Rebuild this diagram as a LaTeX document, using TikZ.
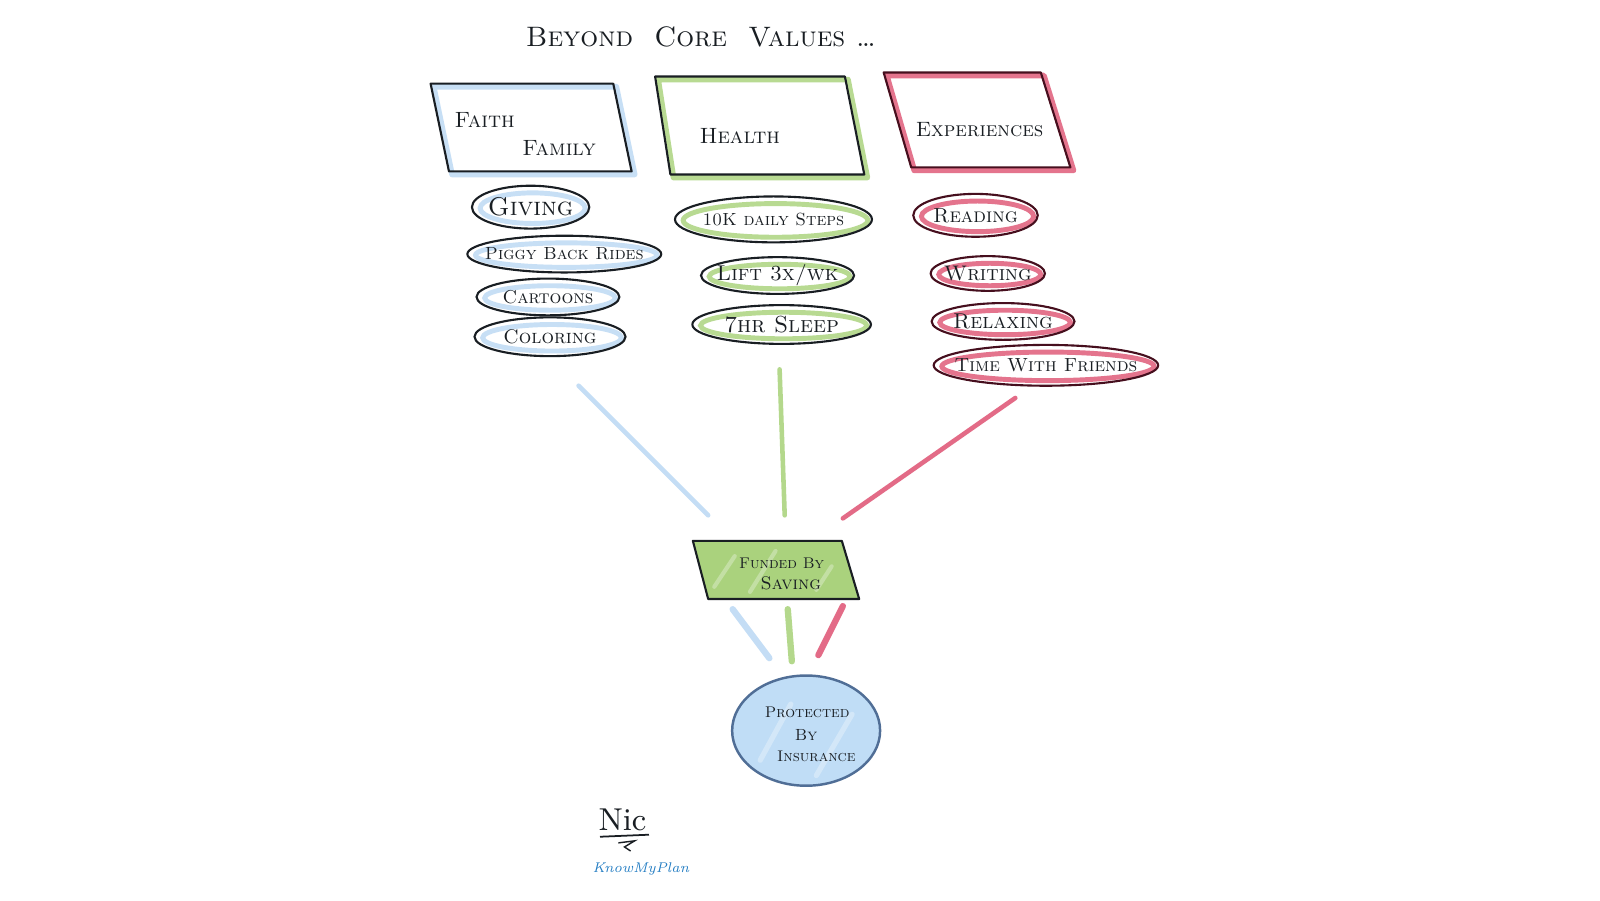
\documentclass[tikz,border=0pt]{standalone}
\usetikzlibrary{shapes.geometric}
\definecolor{cblue}{RGB}{190,218,244}
\definecolor{cgreen}{RGB}{172,212,128}
\definecolor{cred}{RGB}{224,92,122}
\definecolor{ink}{RGB}{25,30,35}
\definecolor{redink}{RGB}{70,15,30}
\definecolor{fundfill}{RGB}{170,210,125}
\definecolor{insfill}{RGB}{192,221,246}
\definecolor{insline}{RGB}{80,110,150}
\definecolor{kmp}{RGB}{35,125,195}
\newcommand\pxu{0.2903pt}
\newcommand\para[6]{%
  \draw[#1, line width=1.6pt, opacity=.85, line join=round, shift={(3,3)}] #3 -- #4 -- #5 -- #6 -- cycle;
  \draw[#2, line width=0.6pt, line join=round] #3 -- #4 -- #5 -- #6 -- cycle;
}
\newcommand\pill[9]{%
  \draw[#6, line width=1.4pt, opacity=.85] (#2+2,#3+1) ellipse [x radius={(#4/2-6)*\pxu}, y radius={(#5/2-6)*\pxu}];
  \node[pillnode, draw=#7, minimum width={#4*\pxu}, minimum height={#5*\pxu}] (#1) at (#2,#3) {};
  \node[pilltext, font=\fontsize{#8}{#8}\selectfont\scshape] (#1-t) at (#1.center) {#9};
}
\begin{document}
\begin{tikzpicture}[x=0.2903pt,y=-0.2903pt,
  pillnode/.style={ellipse, line width=0.6pt, inner sep=0pt},
  pilltext/.style={inner sep=0pt, text=ink},
  boxlbl/.style={inner sep=0pt, text=ink, font=\fontsize{6.3}{7.5}\selectfont\scshape},
  link/.style={line width=1.3pt, line cap=round, opacity=.9},
  droplink/.style={line width=1.8pt, line cap=round, opacity=.9}]
\useasboundingbox[fill=white] (0,0) rectangle (1568,882);

% title
\node[inner sep=0pt, text=ink, font=\fontsize{8}{10}\selectfont\scshape] (title) at (687,36) {Beyond\ \ Core\ \ Values\ \dots};

% top boxes
\para{cblue}{ink}{(422,82)}{(601,82)}{(619,168)}{(440,168)}
\node[boxlbl] (faith) at (475,118) {Faith};
\node[boxlbl] (family) at (548,145) {Family};

\para{cgreen}{ink}{(642,75)}{(828,75)}{(847,171)}{(657,171)}
\node[boxlbl] (health) at (725,133) {Health};

\para{cred}{redink}{(866,71)}{(1020,71)}{(1049,164)}{(893,164)}
\node[boxlbl, font=\fontsize{5.9}{7}\selectfont\scshape] (exp) at (960,127) {Experiences};

% blue column
\pill{giving}{520}{203}{115}{42}{cblue}{ink}{7.3}{Giving}
\pill{piggy}{553}{249}{190}{36}{cblue}{ink}{5.0}{Piggy Back Rides}
\pill{cartoons}{537}{291}{140}{36}{cblue}{ink}{5.3}{Cartoons}
\pill{coloring}{539}{330}{148}{38}{cblue}{ink}{5.6}{Coloring}

% green column
\pill{steps}{758}{215}{193}{45}{cgreen}{ink}{5.0}{10K daily Steps}
\pill{lift}{762}{270}{150}{36}{cgreen}{ink}{6.1}{Lift 3x/wk}
\pill{sleep}{766}{318}{175}{38}{cgreen}{ink}{6.6}{7hr Sleep}

% red column
\pill{reading}{956}{211}{122}{42}{cred}{redink}{5.8}{Reading}
\pill{writing}{968}{268}{112}{34}{cred}{redink}{6.0}{Writing}
\pill{relaxing}{983}{315}{140}{36}{cred}{redink}{6.1}{Relaxing}
\pill{friends}{1025}{358}{220}{40}{cred}{redink}{5.4}{Time With Friends}

% connectors to funding
\coordinate (bs) at (567,378); \coordinate (be) at (694,505);
\coordinate (gs) at (764,362); \coordinate (ge) at (769,505);
\coordinate (rs) at (995,390); \coordinate (re) at (826,508);
\draw[link, cblue] (bs) -- (be);
\draw[link, cgreen] (gs) -- (ge);
\draw[link, cred] (rs) -- (re);

% funding box
\filldraw[fill=fundfill, draw=ink, line width=0.6pt, line join=round] (679,530) -- (825,530) -- (842,587) -- (694,587) -- cycle;
\draw[white, opacity=.3, line width=1.2pt, line cap=round] (700,575) -- (720,545) (735,580) -- (760,540) (800,578) -- (815,555);
\node[inner sep=0pt, text=ink, font=\fontsize{4.4}{5}\selectfont\scshape] (fund) at (766,552) {Funded By};
\node[inner sep=0pt, text=ink, font=\fontsize{5.2}{6}\selectfont\scshape] (fund2) at (775,572) {Saving};

% connectors to insurance
\coordinate (b2s) at (718,597); \coordinate (b2e) at (754,645);
\coordinate (g2s) at (772,597); \coordinate (g2e) at (776,648);
\coordinate (r2s) at (826,594); \coordinate (r2e) at (802,642);
\draw[droplink, cblue] (b2s) -- (b2e);
\draw[droplink, cgreen] (g2s) -- (g2e);
\draw[droplink, cred] (r2s) -- (r2e);

% insurance
\node[ellipse, fill=insfill, draw=insline, line width=0.7pt, minimum width={145*\pxu}, minimum height={108*\pxu}, inner sep=0pt] (ins) at (790,716) {};
\draw[white, opacity=.3, line width=1.5pt, line cap=round] (745,745) -- (775,690) (800,760) -- (835,700);
\node[inner sep=0pt, text=ink, font=\fontsize{4.4}{5}\selectfont\scshape] (ins1) at (791,698) {Protected};
\node[inner sep=0pt, text=ink, font=\fontsize{4.6}{5}\selectfont\scshape] (ins2) at (790,720) {By};
\node[inner sep=0pt, text=ink, font=\fontsize{4.4}{5}\selectfont\scshape] (ins3) at (800,741) {Insurance};

% signature
\node[inner sep=0pt, text=ink, font=\fontsize{9}{10}\selectfont] (nic) at (610,803) {Nic};
\coordinate (ul) at (588,820); \coordinate (ur) at (636,818);
\draw[ink, line width=0.5pt] (ul) -- (ur);
\draw[ink, line width=0.4pt] (606,826) -- (622,824) -- (612,830) -- (618,834);
\node[inner sep=0pt, text=kmp, font=\fontsize{4}{5}\selectfont\itshape] (kmp) at (628,852) {KnowMyPlan};
\end{tikzpicture}
\end{document}
